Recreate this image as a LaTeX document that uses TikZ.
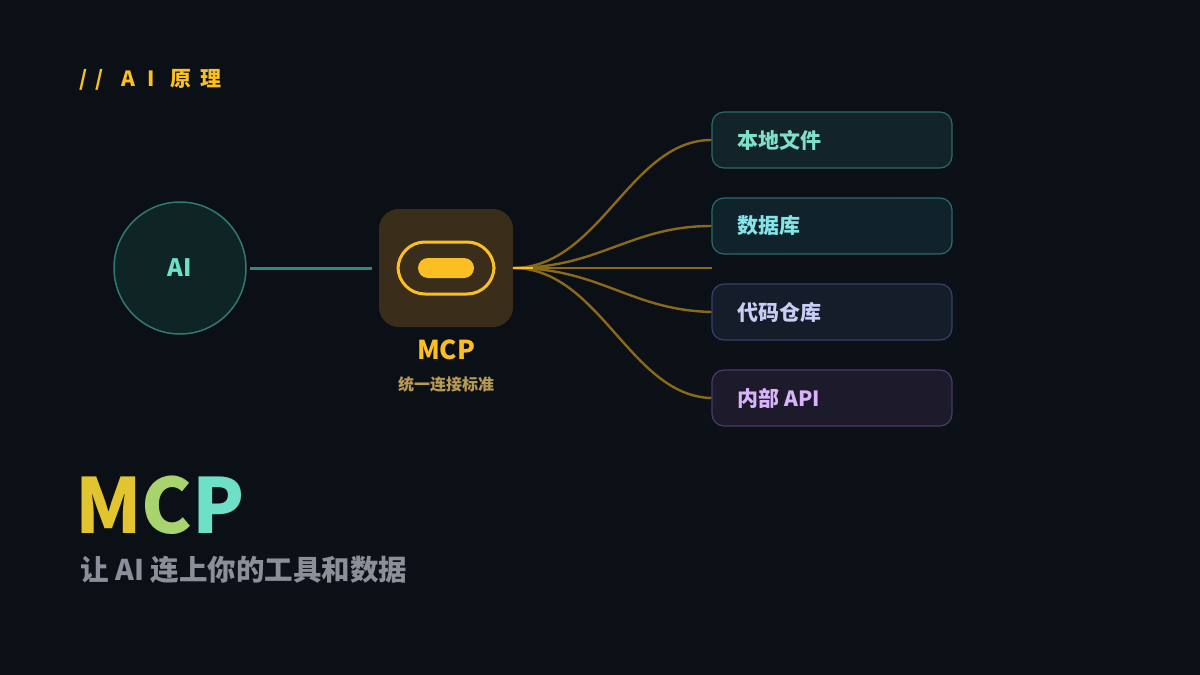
\documentclass[tikz,border=0pt]{standalone}
\usepackage{fontspec}
\setmainfont{Noto Sans CJK SC}
\usetikzlibrary{calc}
\definecolor{bg}{HTML}{0B0F16}
\definecolor{gold}{HTML}{FBBF24}
\definecolor{wire}{HTML}{8A6A1A}
\definecolor{teal}{HTML}{2F8A80}
\definecolor{aifill}{HTML}{0F2424}
\definecolor{aidraw}{HTML}{2F7A72}
\definecolor{mint}{HTML}{6EE0C8}
\definecolor{mcpfill}{HTML}{3A2E1A}
\definecolor{mcpsub}{HTML}{B89A55}
\definecolor{fa}{HTML}{13232A}\definecolor{da}{HTML}{2A6B66}
\definecolor{fb}{HTML}{10232B}\definecolor{db}{HTML}{2A6B6E}
\definecolor{fc}{HTML}{151C2A}\definecolor{dc}{HTML}{34446A}
\definecolor{fd}{HTML}{1C1A2B}\definecolor{dd}{HTML}{4A3B6A}
\definecolor{ta}{HTML}{7FE0C8}\definecolor{tb}{HTML}{86E3E8}
\definecolor{tc}{HTML}{C8CDF5}\definecolor{td}{HTML}{D8B4F8}
\definecolor{bigm}{HTML}{E2C52E}\definecolor{bigc}{HTML}{A8D46E}
\definecolor{subg}{HTML}{8A8F99}
\begin{document}
\begin{tikzpicture}[x=1pt,y=-1pt,
  lbl/.style={font=\bfseries\fontsize{21}{24}\selectfont,anchor=west},
  tgt/.style={rounded corners=12pt,line width=1.2pt,minimum width=240pt,minimum height=56pt,inner sep=0pt},
  wirel/.style={wire,line width=2.4pt}]
\fill[bg] (0,0) rectangle (1200,675);
\useasboundingbox (0,0) rectangle (1200,675);
\fill[white,opacity=0.008] (0,675) -- (1200,30) -- (1200,675) -- cycle;
\node[anchor=west,text=gold,font=\bfseries\fontsize{21}{24}\selectfont] (tt) at (76,80) {/\hspace{8pt}/\hspace{18pt}A\hspace{12pt}I\hspace{16pt}原\hspace{9pt}理};
% AI
\node[circle,minimum size=132pt,fill=aifill,draw=aidraw,line width=1.5pt,text=mint,font=\bfseries\fontsize{24}{28}\selectfont] (ai) at (180,268) {AI};
% MCP box
\node[rounded corners=20pt,fill=mcpfill,minimum width=134pt,minimum height=118pt] (mcp) at (446,268) {};
\node[rounded corners=27pt,draw=gold,line width=3pt,minimum width=96pt,minimum height=52pt] (pill) at (446,268) {};
\node[rounded corners=10pt,fill=gold,minimum width=56pt,minimum height=20pt] (pin) at (446,268) {};
\node[text=gold,font=\bfseries\fontsize{26}{30}\selectfont] (mt) at (446,350) {MCP};
\node[text=mcpsub,font=\bfseries\fontsize{16}{20}\selectfont] (ms) at (446,384) {统一连接标准};
\coordinate (a1) at (250,268);
\coordinate (a2) at (372,268);
\draw[teal,line width=3pt] (a1) -- (a2);
% targets
\node[tgt,fill=fa,draw=da] (t1) at (832,140) {};
\node[tgt,fill=fb,draw=db] (t2) at (832,226) {};
\node[tgt,fill=fc,draw=dc] (t3) at (832,312) {};
\node[tgt,fill=fd,draw=dd] (t4) at (832,398) {};
\node[lbl,text=ta] at (734,140) {本地文件};
\node[lbl,text=tb] at (734,226) {数据库};
\node[lbl,text=tc] at (734,312) {代码仓库};
\node[lbl,text=td] at (734,398) {内部 API};
\coordinate (o) at (513,268);
\coordinate (m) at (712,268);
\draw[wirel] (o) .. controls (600,268) and (630,140) .. (t1.west);
\draw[wirel] (o) .. controls (600,268) and (630,226) .. (t2.west);
\draw[wirel] (o) -- (m);
\draw[wirel] (o) .. controls (600,268) and (630,310) .. (t3.west);
\draw[wirel] (o) .. controls (600,268) and (630,396) .. (t4.west);
\draw[gold,line width=2.5pt] (o) -- ++(20,0);
% title
\node[anchor=west,font=\bfseries\fontsize{76}{90}\selectfont,inner sep=0pt] (big) at (75,505) {\textcolor{bigm}{M}\textcolor{bigc}{C}\textcolor{mint}{P}};
\node[anchor=west,text=subg,font=\bfseries\fontsize{28.5}{32}\selectfont,inner sep=0pt] (sub) at (80,570) {让 AI 连上你的工具和数据};
\end{tikzpicture}
\end{document}
